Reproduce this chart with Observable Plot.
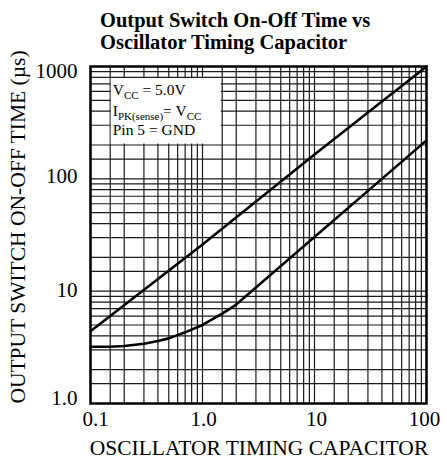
<!DOCTYPE html>
<html><head><meta charset="utf-8">
<script src="https://cdn.jsdelivr.net/npm/d3@7"></script>
<script src="https://cdn.jsdelivr.net/npm/@observablehq/plot@0.6"></script>
<style>body{margin:0;background:#fff} svg{display:block}</style>
</head><body><div id="chart"></div>
<script>
// ---- data ----
const upperX = [0.1, 1, 10, 100];
const upperY = [4.4, 26, 165, 1000];
const lowerX = [0.1, 0.15, 0.2, 0.3, 0.4, 0.5, 0.7, 1.0, 1.5, 2.0, 100];
const lowerY = [3.2, 3.2, 3.25, 3.4, 3.6, 3.8, 4.3, 5.0, 6.3, 7.6, 220];
const xTicks = [0.1, 1, 10, 100];
const xTickLabels = ["0.1", "1.0", "10", "100"];
const yTicks = [1, 10, 100, 1000];
const yTickLabels = ["1.0", "10", "100", "1000"];
const gridMult = [1, 1.5, 2, 3, 4, 5, 6, 7, 8, 9];
const xDecades = [0.1, 1, 10];
const yDecades = [1, 10, 100];
const titleLines = ["Output Switch On-Off Time vs", "Oscillator Timing Capacitor"];
const xLabel = "OSCILLATOR TIMING CAPACITOR";
const yLabel = "OUTPUT SWITCH ON-OFF TIME (µs)";

const xGrid = xDecades.flatMap(d => gridMult.map(m => d * m)).concat([100]);
const yGrid = yDecades.flatMap(d => gridMult.map(m => d * m)).concat([1000]);
const upper = upperX.map((x, i) => ({x, y: upperY[i]}));
const lower = lowerX.map((x, i) => ({x, y: lowerY[i]}));

const FONT = "'Liberation Serif', 'Times New Roman', serif";
const xDx = [5, 1, 2, -2];
const yDy = [-5, -1, -3, 5];

const marks = [
  Plot.ruleX(xGrid, {stroke: "#1a1a1a", strokeWidth: 1.2}),
  Plot.ruleY(yGrid, {stroke: "#1a1a1a", strokeWidth: 1.2}),
  Plot.line(upper, {x: "x", y: "y", stroke: "black", strokeWidth: 2.6}),
  Plot.line(lower, {x: "x", y: "y", stroke: "black", strokeWidth: 2.6}),
  Plot.frame({stroke: "black", strokeWidth: 2.5}),
  ...xTicks.map((v, i) => Plot.text([v], {x: d => d, text: [xTickLabels[i]], frameAnchor: "bottom", lineAnchor: "middle", dy: 16, dx: xDx[i], fontSize: 21, fill: "black"})),
  ...yTicks.map((v, i) => Plot.text([v], {y: d => d, text: [yTickLabels[i]], frameAnchor: "left", textAnchor: "end", dx: -13, dy: yDy[i], fontSize: 21, fill: "black"}))
];

const plot = Plot.plot({
  width: 447, height: 459,
  marginLeft: 90, marginRight: 21, marginTop: 66, marginBottom: 56,
  style: {fontFamily: FONT, background: "white", color: "black"},
  x: {type: "log", domain: [0.1, 100], axis: null},
  y: {type: "log", domain: [1, 1000], axis: null},
  marks
});
document.getElementById("chart").appendChild(plot);

const svg = d3.select(plot);
const sx = plot.scale("x"), sy = plot.scale("y");

// legend box
const bx1 = sx.apply(0.15) + 1, bx2 = sx.apply(1.5) - 1;
const by1 = sy.apply(780), by2 = sy.apply(200) - 1;
svg.append("rect").attr("x", bx1).attr("y", by1).attr("width", bx2 - bx1).attr("height", by2 - by1).attr("fill", "white");
const lg = svg.append("g").attr("font-family", FONT).attr("font-size", 15.5).attr("fill", "black").attr("text-anchor", "start");
const tx = bx1 + 2;
let t1 = lg.append("text").attr("x", tx).attr("y", 95);
t1.append("tspan").text("V");
t1.append("tspan").attr("font-size", 11).attr("dy", 4).text("CC");
t1.append("tspan").attr("dy", -4).text(" = 5.0V");
let t2 = lg.append("text").attr("x", tx).attr("y", 116);
t2.append("tspan").text("I");
t2.append("tspan").attr("font-size", 11).attr("dy", 4).text("PK(sense)");
t2.append("tspan").attr("dy", -4).text("= V");
t2.append("tspan").attr("font-size", 11).attr("dy", 4).text("CC");
lg.append("text").attr("x", tx).attr("y", 135).text("Pin 5 = GND");

// title
const tg = svg.append("g").attr("font-family", FONT).attr("font-size", 20.5).attr("font-weight", "bold").attr("fill", "black").attr("text-anchor", "start");
titleLines.forEach((s, i) => tg.append("text").attr("x", 100).attr("y", 26.5 + i * 22).text(s));

// axis titles
svg.append("text").attr("font-family", FONT).attr("font-size", 21.5).attr("fill", "black")
  .attr("text-anchor", "middle").attr("x", 259).attr("y", 455).text(xLabel);
svg.append("text").attr("font-family", FONT).attr("font-size", 21.5).attr("fill", "black")
  .attr("text-anchor", "middle").attr("transform", "translate(25,227) rotate(-90)").text(yLabel);
</script>
</body></html>
